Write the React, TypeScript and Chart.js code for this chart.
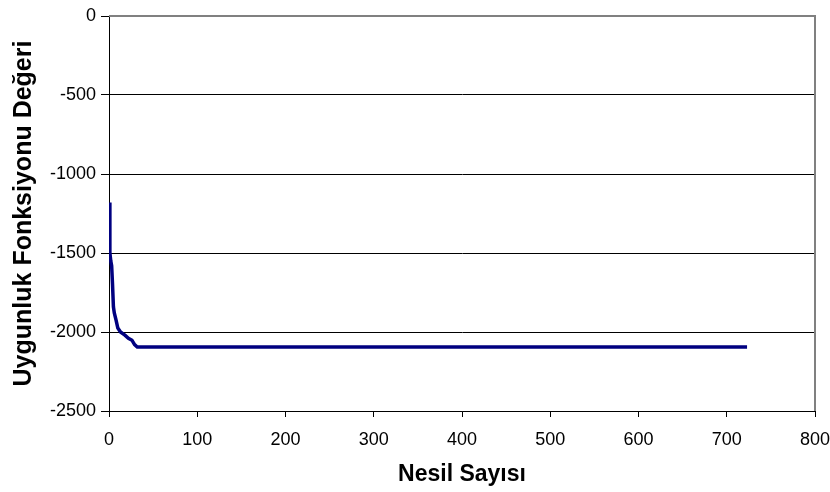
import React, { useEffect, useRef } from "react";
import { Chart, registerables } from "chart.js";

Chart.register(...registerables);

const generations = [0, 1, 2, 3, 4, 5, 6, 8, 10, 13, 18, 22, 26, 29, 32, 723];
const fitness = [-1180, -1500, -1550, -1580, -1700, -1840, -1880, -1925, -1975, -2000, -2020, -2040, -2052, -2080, -2095, -2095];
const xTicks = [0, 100, 200, 300, 400, 500, 600, 700, 800];
const yTicks = [0, -500, -1000, -1500, -2000, -2500];

const borderPlugin = {
  id: "plotBorder",
  afterDraw(chart: any) {
    const { ctx, chartArea } = chart;
    ctx.save();
    ctx.strokeStyle = "#808080";
    ctx.lineWidth = 2;
    ctx.beginPath();
    ctx.moveTo(chartArea.left, chartArea.top);
    ctx.lineTo(chartArea.right, chartArea.top);
    ctx.lineTo(chartArea.right, chartArea.bottom);
    ctx.stroke();
    ctx.restore();
  },
};

export default function App() {
  const ref = useRef<HTMLCanvasElement | null>(null);
  useEffect(() => {
    if (!ref.current) return;
    const data = generations.map((g, i) => ({ x: g, y: fitness[i] }));
    const chart = new Chart(ref.current, {
      type: "scatter",
      data: {
        datasets: [
          {
            data,
            showLine: true,
            borderColor: "#000080",
            backgroundColor: "#000080",
            borderWidth: 3.5,
            pointRadius: 0,
            tension: 0,
          },
        ],
      },
      options: {
        animation: false,
        responsive: true,
        maintainAspectRatio: false,
        layout: { padding: { left: 0, right: 15, top: 16, bottom: 0 } },
        plugins: { legend: { display: false }, tooltip: { enabled: false } },
        scales: {
          x: {
            type: "linear",
            min: 0,
            max: 800,
            afterBuildTicks: (scale: any) => {
              scale.ticks = xTicks.map((v) => ({ value: v }));
            },
            afterFit: (scale: any) => {
              scale.height = 81;
              scale.paddingLeft = 0;
              scale.paddingRight = 0;
            },
            grid: {
              drawOnChartArea: false,
              drawTicks: true,
              tickLength: 6,
              color: "#000000",
            },
            border: { color: "#000000", width: 1 },
            ticks: {
              color: "#000000",
              font: { family: "'Liberation Sans', Arial, sans-serif", size: 18 },
              padding: 12,
              maxRotation: 0,
              callback: (v: any) => String(v),
            },
            title: {
              display: true,
              text: "Nesil Sayısı",
              color: "#000000",
              font: { family: "'Liberation Sans', Arial, sans-serif", size: 23, weight: "bold" },
              padding: { top: 0, bottom: 4 },
            },
          },
          y: {
            type: "linear",
            min: -2500,
            max: 0,
            afterBuildTicks: (scale: any) => {
              scale.ticks = yTicks.map((v) => ({ value: v }));
            },
            afterFit: (scale: any) => {
              scale.width = 109;
            },
            grid: {
              drawOnChartArea: true,
              drawTicks: true,
              tickLength: 8,
              color: "#000000",
              lineWidth: 1,
            },
            border: { color: "#000000", width: 1 },
            ticks: {
              color: "#000000",
              font: { family: "'Liberation Sans', Arial, sans-serif", size: 18 },
              padding: 5,
              callback: (v: any) => String(v),
            },
            title: {
              display: true,
              text: "Uygunluk Fonksiyonu Değeri",
              color: "#000000",
              font: { family: "'Liberation Sans', Arial, sans-serif", size: 25, weight: "bold" },
              padding: { top: 9, bottom: 0 },
            },
          },
        },
      },
      plugins: [borderPlugin],
    });
    return () => chart.destroy();
  }, []);
  return (
    <div style={{ position: "absolute", left: 0, top: 0, width: 830, height: 492, background: "#ffffff" }}>
      <canvas ref={ref} />
    </div>
  );
}
